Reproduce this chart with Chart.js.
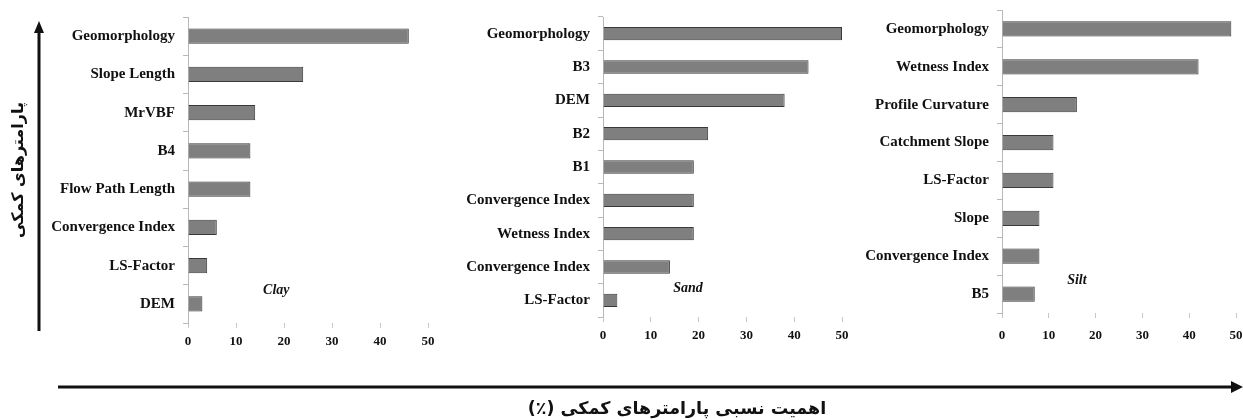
<!DOCTYPE html>
<html>
<head>
<meta charset="utf-8">
<script src="https://cdn.jsdelivr.net/npm/chart.js@4.4.1/dist/chart.umd.min.js"></script>
<style>
  html, body { margin: 0; padding: 0; background: #fff; }
  #wrap { position: relative; width: 1243px; height: 420px; overflow: hidden; }
  .box { position: absolute; top: 0; height: 360px; }
  #arrows { position: absolute; left: 0; top: 0; }
  #xTitle {
    position: absolute; left: 477px; width: 400px; top: 398px;
    text-align: center; direction: rtl;
    font: bold 17.5px "DejaVu Sans", sans-serif; color: #111;
  }
</style>
</head>
<body>
<div id="wrap">
  <div class="box" style="left:0;width:445px"><canvas id="clayChart"></canvas></div>
  <div class="box" style="left:440px;width:420px"><canvas id="sandChart"></canvas></div>
  <div class="box" style="left:860px;width:383px;top:-7px"><canvas id="siltChart"></canvas></div>
  <svg id="arrows" width="1243" height="420">
    <line x1="39" y1="331" x2="39" y2="30" stroke="#111" stroke-width="3"/>
    <polygon points="39,21 34,33 44,33" fill="#111"/>
    <line x1="58" y1="387" x2="1234" y2="387" stroke="#111" stroke-width="3"/>
    <polygon points="1243,387 1231,381 1231,393" fill="#111"/>
  </svg>
  <div id="xTitle">اهمیت نسبی پارامترهای کمکی (٪)</div>
</div>
<script>
// داده‌ها
const xTicks = [0, 10, 20, 30, 40, 50];

const clayLabels = ["Geomorphology", "Slope Length", "MrVBF", "B4", "Flow Path Length", "Convergence Index", "LS-Factor", "DEM"];
const clayValues = [46, 24, 14, 13, 13, 6, 4, 3];

const sandLabels = ["Geomorphology", "B3", "DEM", "B2", "B1", "Convergence Index", "Wetness Index", "Convergence Index", "LS-Factor"];
const sandValues = [50, 43, 38, 22, 19, 19, 19, 14, 3];

const siltLabels = ["Geomorphology", "Wetness Index", "Profile Curvature", "Catchment Slope", "LS-Factor", "Slope", "Convergence Index", "B5"];
const siltValues = [49, 42, 16, 11, 11, 8, 8, 7];

const yTitle = "پارامترهای کمکی";

// برچسب Clay / Sand / Silt داخل نمودار
const tagPlugin = {
  id: "tag",
  afterDatasetsDraw(chart, args, opts) {
    if (!opts.text) return;
    const ctx = chart.ctx;
    const x = chart.scales.x.getPixelForValue(opts.x);
    const y = chart.scales.y.getPixelForValue(opts.y);
    ctx.save();
    ctx.font = "italic bold 14px 'Liberation Serif', serif";
    ctx.fillStyle = "#111";
    ctx.textAlign = "center";
    ctx.textBaseline = "middle";
    ctx.fillText(opts.text, x, y);
    ctx.restore();
  }
};

function makeChart(id, labels, values, cfg) {
  const ctx = document.getElementById(id).getContext("2d");
  return new Chart(ctx, {
    type: "bar",
    data: {
      labels: labels,
      datasets: [{
        data: values,
        backgroundColor: "#7f7f7f",
        borderColor: "#3a3a3a",
        borderWidth: 1,
        barPercentage: 0.4,
        categoryPercentage: 1
      }]
    },
    plugins: [tagPlugin],
    options: {
      indexAxis: "y",
      responsive: true,
      maintainAspectRatio: false,
      animation: false,
      layout: { padding: { top: cfg.top, right: cfg.right, left: 0, bottom: 0 } },
      plugins: {
        legend: { display: false },
        tooltip: { enabled: false },
        tag: { text: cfg.tag, x: cfg.tagX, y: cfg.tagY }
      },
      scales: {
        x: {
          min: 0,
          max: 50,
          afterBuildTicks: (s) => { s.ticks = xTicks.map(v => ({ value: v })); },
          border: { display: false },
          grid: { drawOnChartArea: false, color: "#c8c8c8", tickLength: 5 },
          ticks: { color: "#111", padding: cfg.xPad, font: { family: "'Liberation Serif', serif", weight: "bold", size: 13 } },
          afterFit: (s) => {
            s.height = cfg.xHeight;
            if (cfg.padR !== undefined) s.paddingRight = cfg.padR;
          }
        },
        y: {
          border: { display: true, color: "#b8b8b8", width: 1 },
          grid: { drawOnChartArea: false, color: "#b8b8b8", tickLength: 5, offset: true },
          ticks: { color: "#111", padding: 8, autoSkip: false, font: { family: "'Liberation Serif', serif", weight: "bold", size: 15 } },
          title: cfg.yTitle ? {
            display: true,
            text: cfg.yTitle,
            color: "#111",
            padding: { top: 9, bottom: 0 },
            font: { family: "'DejaVu Sans', sans-serif", weight: "bold", size: 16 }
          } : { display: false },
          afterFit: (s) => { s.width = cfg.yWidth; }
        }
      }
    }
  });
}

makeChart("clayChart", clayLabels, clayValues, { top: 17, right: 17, yWidth: 188, xHeight: 37, xPad: 6, yTitle: yTitle, tag: "Clay", tagX: 18.4, tagY: 6.65 });
makeChart("sandChart", sandLabels, sandValues, { top: 17, right: 18, yWidth: 163, xHeight: 43, xPad: 6, tag: "Sand", tagX: 17.8, tagY: 7.63 });
makeChart("siltChart", siltLabels, siltValues, { top: 10, right: 0, yWidth: 142, xHeight: 40, xPad: 10, padR: 7, tag: "Silt", tagX: 16, tagY: 6.63 });
</script>
</body>
</html>
